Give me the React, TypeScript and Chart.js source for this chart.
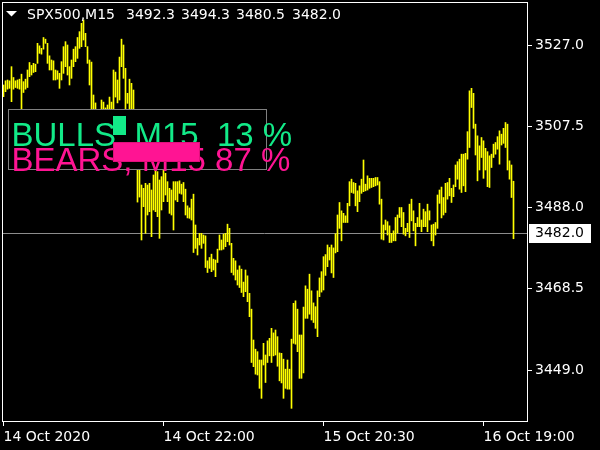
import React, { useEffect, useRef } from "react";
import { Chart, registerables } from "chart.js";

Chart.register(...registerables);

// ---- data ----
const symbol = "SPX500,M15";
const lastOHLC = [3492.3, 3494.3, 3480.5, 3482.0];
const currentPrice = 3482.0;

const highs = [
  3517.4, 3518.4, 3518.6, 3518.4, 3521.8, 3519.2, 3518.4, 3518.6, 3518.8, 3520.0, 3518.2, 3518.8, 3521.0, 3522.8, 3522.1, 3522.6,
  3522.4, 3527.4, 3526.8, 3526.2, 3528.8, 3528.4, 3527.4, 3524.4, 3523.4, 3523.2, 3521.0, 3520.8, 3520.2, 3523.0, 3526.6, 3527.8,
  3527.0, 3521.8, 3523.4, 3526.0, 3526.6, 3528.8, 3530.2, 3532.2, 3533.0, 3529.8, 3526.6, 3523.4, 3522.9, 3515.0, 3513.1, 3511.4,
  3510.9, 3513.8, 3513.3, 3511.9, 3512.6, 3514.5, 3513.3, 3521.0, 3520.5, 3518.6, 3524.1, 3528.4, 3527.0, 3521.4, 3515.4, 3518.8,
  3517.8, 3516.2, 3509.0, 3500.6, 3498.2, 3493.4, 3492.6, 3493.8, 3493.4, 3493.8, 3492.2, 3495.8, 3498.0, 3496.6, 3494.6, 3495.4,
  3497.5, 3496.2, 3494.2, 3492.6, 3492.2, 3494.2, 3494.2, 3494.2, 3494.4, 3493.6, 3494.0, 3492.4, 3488.4, 3487.9, 3490.0, 3491.2,
  3483.8, 3480.6, 3481.8, 3481.8, 3481.4, 3481.2, 3475.2, 3476.0, 3476.8, 3475.6, 3475.4, 3478.0, 3481.4, 3480.2, 3481.6, 3481.8,
  3484.0, 3483.0, 3479.4, 3475.8, 3475.2, 3473.0, 3474.0, 3473.2, 3470.1, 3473.0, 3471.6, 3467.4, 3463.6, 3456.2, 3454.0, 3453.4,
  3451.4, 3451.4, 3455.4, 3452.6, 3456.0, 3456.6, 3459.0, 3457.9, 3458.6, 3457.0, 3453.1, 3453.0, 3451.6, 3449.2, 3451.4, 3449.2,
  3456.4, 3465.0, 3465.6, 3463.6, 3457.4, 3457.4, 3464.1, 3469.2, 3468.4, 3472.0, 3468.0, 3465.1, 3464.2, 3468.0, 3471.1, 3472.6,
  3476.2, 3476.7, 3479.0, 3478.4, 3479.0, 3478.3, 3481.7, 3486.2, 3489.2, 3487.2, 3486.6, 3486.0, 3489.0, 3494.2, 3494.8, 3494.0,
  3493.8, 3492.0, 3493.2, 3494.8, 3499.4, 3493.6, 3495.6, 3495.0, 3495.0, 3495.0, 3495.2, 3495.2, 3494.2, 3490.0, 3483.8, 3485.0,
  3484.6, 3483.6, 3481.8, 3482.4, 3485.6, 3486.2, 3488.0, 3488.0, 3486.8, 3483.0, 3484.2, 3488.8, 3490.0, 3487.2, 3484.2, 3485.6,
  3489.0, 3485.0, 3487.6, 3487.0, 3488.8, 3487.2, 3483.8, 3484.0, 3484.4, 3491.0, 3492.2, 3492.9, 3490.4, 3493.8, 3494.0, 3495.0,
  3492.6, 3493.4, 3498.2, 3499.0, 3499.6, 3500.8, 3500.8, 3501.0, 3506.2, 3516.0, 3516.6, 3515.4, 3508.0, 3505.2, 3502.8, 3504.8,
  3504.0, 3502.2, 3501.4, 3500.4, 3500.8, 3503.2, 3503.6, 3505.0, 3506.4, 3505.6, 3507.0, 3508.4, 3508.0, 3499.2, 3498.2, 3494.3,
];

const lows = [
  3514.6, 3515.8, 3516.4, 3516.6, 3513.4, 3516.4, 3516.8, 3516.6, 3516.4, 3511.4, 3515.6, 3516.4, 3516.8, 3519.4, 3519.8, 3520.4,
  3520.6, 3522.6, 3525.0, 3524.8, 3526.0, 3527.4, 3522.6, 3521.0, 3521.0, 3518.6, 3518.6, 3518.8, 3516.6, 3518.6, 3520.2, 3521.8,
  3519.8, 3517.4, 3519.0, 3521.8, 3523.0, 3523.8, 3526.2, 3526.6, 3528.2, 3526.6, 3522.6, 3517.4, 3509.5, 3507.8, 3507.1, 3505.4,
  3506.1, 3507.1, 3506.6, 3506.1, 3507.1, 3507.8, 3508.5, 3510.2, 3514.5, 3513.1, 3513.8, 3521.8, 3519.0, 3510.2, 3513.0, 3509.5,
  3507.8, 3505.4, 3499.4, 3489.3, 3490.5, 3480.2, 3488.2, 3481.8, 3486.2, 3487.0, 3481.0, 3487.4, 3487.0, 3485.8, 3480.6, 3487.4,
  3489.4, 3491.0, 3489.4, 3486.6, 3486.2, 3482.6, 3489.8, 3489.4, 3491.4, 3491.2, 3489.4, 3486.2, 3485.5, 3485.4, 3485.0, 3477.2,
  3478.2, 3476.6, 3479.0, 3478.2, 3479.4, 3473.6, 3472.4, 3473.4, 3472.6, 3473.0, 3471.4, 3474.8, 3477.8, 3477.8, 3478.0, 3478.6,
  3479.8, 3479.0, 3472.4, 3471.8, 3470.6, 3469.4, 3468.8, 3467.6, 3466.6, 3467.8, 3465.4, 3461.8, 3450.8, 3449.8, 3448.0, 3447.8,
  3444.6, 3442.2, 3450.2, 3446.0, 3450.8, 3452.4, 3450.8, 3452.4, 3452.6, 3449.9, 3446.4, 3445.9, 3442.2, 3444.6, 3444.4, 3444.4,
  3439.8, 3455.4, 3455.2, 3453.4, 3447.0, 3447.0, 3448.3, 3461.4, 3461.4, 3462.4, 3461.0, 3460.4, 3459.0, 3457.0, 3466.6, 3467.7,
  3468.2, 3471.7, 3473.8, 3475.4, 3472.3, 3471.2, 3477.1, 3477.4, 3483.0, 3480.0, 3484.4, 3484.4, 3484.4, 3488.4, 3491.6, 3491.4,
  3488.4, 3487.0, 3489.4, 3491.4, 3491.8, 3492.0, 3492.2, 3492.6, 3492.8, 3493.0, 3493.2, 3493.4, 3488.8, 3480.4, 3480.2, 3482.6,
  3481.4, 3479.6, 3479.6, 3480.0, 3480.0, 3481.9, 3485.6, 3483.4, 3481.6, 3481.2, 3482.2, 3480.8, 3484.8, 3482.4, 3478.8, 3483.4,
  3483.4, 3482.2, 3483.4, 3483.4, 3482.2, 3485.0, 3480.0, 3478.8, 3481.4, 3483.0, 3489.0, 3485.5, 3486.2, 3486.8, 3490.0, 3490.8,
  3489.2, 3490.6, 3493.0, 3494.8, 3492.4, 3491.6, 3493.2, 3491.8, 3499.6, 3502.4, 3512.0, 3507.0, 3500.6, 3494.4, 3497.0, 3500.0,
  3495.0, 3497.0, 3493.0, 3492.8, 3497.6, 3500.0, 3500.8, 3502.0, 3498.4, 3503.0, 3503.4, 3502.4, 3497.0, 3494.8, 3490.4, 3480.5,
];

const yTickValues = [3449.0, 3468.5, 3488.0, 3507.5, 3527.0];
const xTickIndex = [0, 80, 160, 240];
const xTickLabels = ["14 Oct 2020", "14 Oct 22:00", "15 Oct 20:30", "16 Oct 19:00"];

const timeframe = "M15";
const bullsPct = 13;
const bearsPct = 87;

// visible window (chart view range)
const Y_MIN = 3436.76;
const Y_MAX = 3537.32;
const X_MIN = -0.75;
const X_MAX = 261.75;

const BAR_COLOR = "#ffff00";
const GREEN = "#12ea88";
const PINK = "#ff1493";
const UI_FONT = '"DejaVu Sans", sans-serif';

const overlay = {
  id: "mtOverlay",
  beforeDatasetsDraw(chart: any) {
    const { ctx, chartArea, scales } = chart;
    const y = Math.round(scales.y.getPixelForValue(currentPrice)) + 0.5;
    ctx.save();
    ctx.strokeStyle = "#8c8c8c";
    ctx.lineWidth = 1;
    ctx.beginPath();
    ctx.moveTo(chartArea.left, y);
    ctx.lineTo(chartArea.right, y);
    ctx.stroke();
    ctx.restore();
  },
  afterDatasetsDraw(chart: any) {
    const { ctx } = chart;
    ctx.save();
    // info panel
    ctx.fillStyle = "#000";
    ctx.fillRect(8.5, 109.5, 258, 60);
    ctx.strokeStyle = "#808080";
    ctx.lineWidth = 1;
    ctx.strokeRect(8.5, 109.5, 258, 60);

    ctx.font = '33px "Liberation Sans", Arial, sans-serif';
    ctx.textBaseline = "alphabetic";
    ctx.textAlign = "left";
    ctx.fillStyle = GREEN;
    ctx.fillText(`BULLS, ${timeframe}  ${bullsPct} %`, 11.5, 146);
    ctx.fillStyle = PINK;
    ctx.fillText(`BEARS, ${timeframe} ${bearsPct} %`, 11.5, 171);

    // strength bars
    ctx.fillStyle = GREEN;
    ctx.fillRect(113, 116, bullsPct, 19);
    ctx.fillStyle = PINK;
    ctx.fillRect(113, 142, bearsPct, 20);
    ctx.strokeStyle = "#e0107c";
    ctx.strokeRect(113.5, 142.5, bearsPct - 1, 19);

    // header
    ctx.fillStyle = "#fff";
    ctx.beginPath();
    ctx.moveTo(6, 11);
    ctx.lineTo(17, 11);
    ctx.lineTo(11.5, 16.5);
    ctx.closePath();
    ctx.fill();
    ctx.font = `14px ${UI_FONT}`;
    ctx.textBaseline = "middle";
    ctx.fillText(symbol, 27, 15);
    const xs = [126, 181, 236, 292];
    lastOHLC.forEach((v, k) => ctx.fillText(v.toFixed(1), xs[k], 15));
    ctx.restore();
  },
  afterDraw(chart: any) {
    const { ctx, chartArea, scales } = chart;
    ctx.save();
    ctx.strokeStyle = "#fff";
    ctx.lineWidth = 1;
    ctx.beginPath();
    ctx.moveTo(chartArea.left, chartArea.top + 0.5);
    ctx.lineTo(chartArea.right + 1, chartArea.top + 0.5);
    ctx.moveTo(chartArea.left + 0.5, chartArea.top);
    ctx.lineTo(chartArea.left + 0.5, chartArea.bottom + 1);
    ctx.stroke();
    // current price label
    const yp = scales.y.getPixelForValue(currentPrice);
    const top = Math.round(yp - 9);
    ctx.fillStyle = "#fff";
    ctx.fillRect(529, top, 62, 19);
    ctx.fillStyle = "#000";
    ctx.font = `14px ${UI_FONT}`;
    ctx.textBaseline = "middle";
    ctx.textAlign = "left";
    ctx.fillText(currentPrice.toFixed(1), 535, top + 9.5);
    ctx.restore();
  },
};

export default function App() {
  const ref = useRef<HTMLCanvasElement>(null);
  useEffect(() => {
    const canvas = ref.current;
    if (!canvas) return;
    const bars = highs.map((h, i) => ({ x: i, y: [lows[i], h] }));
    const chart = new Chart(canvas, {
      type: "bar",
      data: {
        datasets: [
          {
            data: bars as any,
            backgroundColor: BAR_COLOR,
            borderWidth: 0,
            barThickness: 1,
          },
        ],
      },
      options: {
        animation: false,
        responsive: false,
        events: [],
        layout: { padding: { left: 2, top: 2, right: 0, bottom: 0 } },
        plugins: { legend: { display: false }, tooltip: { enabled: false } },
        scales: {
          x: {
            type: "linear",
            min: X_MIN,
            max: X_MAX,
            offset: false,
            grid: {
              display: true,
              drawOnChartArea: false,
              drawTicks: true,
              tickLength: 5,
              color: "#ffffff",
              offset: false,
            },
            border: { display: true, color: "#ffffff", width: 1 },
            ticks: {
              autoSkip: false,
              maxRotation: 0,
              minRotation: 0,
              align: "start",
              padding: 3,
              color: "#ffffff",
              font: { family: UI_FONT, size: 14 },
              callback: (v: any) => {
                const k = xTickIndex.indexOf(Number(v));
                return k >= 0 ? xTickLabels[k] : "";
              },
            },
            afterBuildTicks: (s: any) => {
              s.ticks = xTickIndex.map((v) => ({ value: v }));
            },
            afterFit: (s: any) => {
              s.height = 29;
              s.paddingLeft = 0;
              s.paddingRight = 0;
              s.paddingTop = 0;
              s.paddingBottom = 0;
            },
          },
          y: {
            type: "linear",
            position: "right",
            min: Y_MIN,
            max: Y_MAX,
            grid: {
              display: true,
              drawOnChartArea: false,
              drawTicks: true,
              tickLength: 5,
              color: "#ffffff",
            },
            border: { display: true, color: "#ffffff", width: 1 },
            ticks: {
              padding: 3,
              color: "#ffffff",
              font: { family: UI_FONT, size: 14 },
              callback: (v: any) => Number(v).toFixed(1),
            },
            afterBuildTicks: (s: any) => {
              s.ticks = yTickValues.map((v) => ({ value: v }));
            },
            afterFit: (s: any) => {
              s.width = 73;
              s.paddingLeft = 0;
              s.paddingRight = 0;
              s.paddingTop = 0;
              s.paddingBottom = 0;
            },
          },
        },
      } as any,
      plugins: [overlay],
    });
    return () => chart.destroy();
  }, []);

  return (
    <div
      style={{
        position: "fixed",
        left: 0,
        top: 0,
        width: 600,
        height: 450,
        background: "#000",
      }}
    >
      <canvas ref={ref} width={600} height={450} style={{ display: "block" }} />
    </div>
  );
}
